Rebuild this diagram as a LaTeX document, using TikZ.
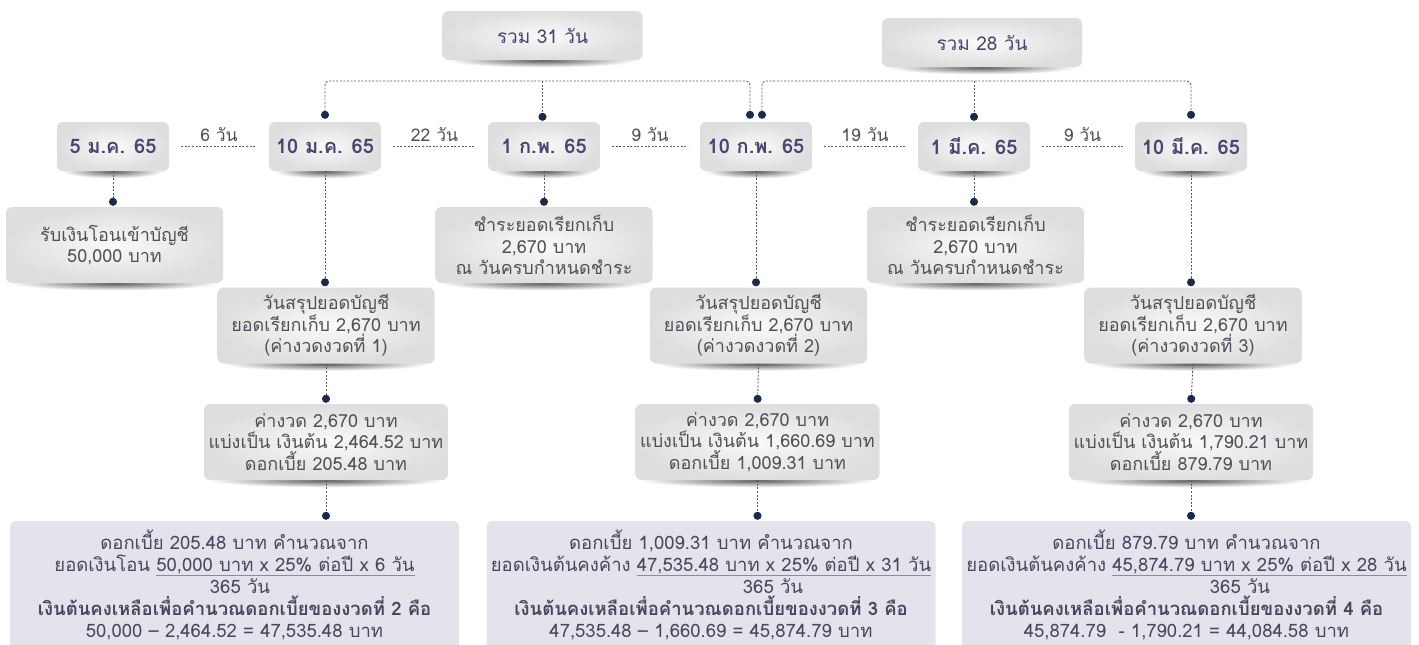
\documentclass[tikz,border=0pt]{standalone}
\usepackage{fontspec}
\setmainfont[Script=Thai]{Loma}
\usetikzlibrary{arrows.meta,backgrounds}
\definecolor{datetext}{HTML}{4B4470}
\definecolor{bodytext}{HTML}{505058}
\definecolor{calctext}{HTML}{49465F}
\definecolor{calcfill}{HTML}{E4E3EC}
\definecolor{dotcol}{HTML}{1B2A4A}
\definecolor{linecol}{HTML}{5A5A5A}
\definecolor{barcol}{HTML}{8C8C96}
\newlength\barlen
\newcommand\fracbar[1]{\settowidth\barlen{#1}\rlap{\textcolor{barcol}{\rule[-4pt]{\barlen}{1.3pt}}}#1}
\newcommand\widebold[1]{{\fontsize{18.5}{22}\selectfont\bfseries #1}}
\newcommand\fixedlines{\lineskiplimit=-30pt\relax\lineskip=0pt\relax}
\tikzset{
  graybox/.style={rounded corners=6pt, inner color=black!2, outer color=black!13, align=center, text=bodytext, font=\fontsize{18}{21.5}\selectfont\fixedlines},
  datebox/.style={graybox, minimum width=112pt, minimum height=49pt, text=datetext, font=\fontsize{20}{24}\selectfont\bfseries},
  sumbox/.style={graybox, minimum width=200pt, minimum height=49pt, text=datetext, font=\fontsize{19}{24}\selectfont},
  infobox/.style={graybox, minimum width=217pt, minimum height=76pt},
  splitbox/.style={graybox, minimum width=244pt, minimum height=76pt},
  calcbox/.style={rounded corners=6pt, fill=calcfill, align=center, text=calctext, minimum width=449pt, minimum height=129pt, font=\fontsize{18.5}{22}\selectfont\fixedlines},
  conn/.style={draw=linecol, line width=0.9pt, dash pattern=on 2pt off 1.6pt},
  todot/.style={conn, arrows={-Circle[length=8pt,color=dotcol]}, shorten >=1pt},
  bothdot/.style={conn, arrows={Circle[length=8pt,color=dotcol]-Circle[length=8pt,color=dotcol]}, shorten <=3pt, shorten >=3pt, rounded corners=4pt},
  gap/.style={conn, shorten <=12pt, shorten >=12pt},
  gaplabel/.style={text=bodytext, font=\fontsize{17.5}{20}\selectfont, above=1pt}
}
\begin{document}
\begin{tikzpicture}[x=1pt,y=-1pt]
\useasboundingbox (0,0) rectangle (1419,645);

\node[sumbox] (sum31) at (542.5,35.5) {รวม 31 วัน};
\node[sumbox] (sum28) at (982,42.5) {รวม 28 วัน};

\node[datebox] (d5jan) at (113,146.5) {5 ม.ค. 65};
\node[datebox] (d10jan) at (325,146.5) {10 ม.ค. 65};
\node[datebox] (d1feb) at (544,146.5) {1 ก.พ. 65};
\node[datebox] (d10feb) at (756,146.5) {10 ก.พ. 65};
\node[datebox] (d1mar) at (974,146.5) {1 มี.ค. 65};
\node[datebox] (d10mar) at (1191,146.5) {10 มี.ค. 65};

\node[infobox] (recv) at (114.5,245) {รับเงินโอนเข้าบัญชี\\50,000 บาท};
\node[infobox] (pay1) at (544,245) {ชำระยอดเรียกเก็บ\\2,670 บาท\\ณ วันครบกำหนดชำระ};
\node[infobox] (pay2) at (975.5,245) {ชำระยอดเรียกเก็บ\\2,670 บาท\\ณ วันครบกำหนดชำระ};

\node[infobox] (stmt1) at (326,325.5) {วันสรุปยอดบัญชี\\ยอดเรียกเก็บ 2,670 บาท\\(ค่างวดงวดที่ 1)};
\node[infobox] (stmt2) at (758.5,325.5) {วันสรุปยอดบัญชี\\ยอดเรียกเก็บ 2,670 บาท\\(ค่างวดงวดที่ 2)};
\node[infobox] (stmt3) at (1193,325.5) {วันสรุปยอดบัญชี\\ยอดเรียกเก็บ 2,670 บาท\\(ค่างวดงวดที่ 3)};

\node[splitbox] (split1) at (326,442) {ค่างวด 2,670 บาท\\แบ่งเป็น เงินต้น 2,464.52 บาท\\ดอกเบี้ย 205.48 บาท};
\node[splitbox] (split2) at (757.5,442) {ค่างวด 2,670 บาท\\แบ่งเป็น เงินต้น 1,660.69 บาท\\ดอกเบี้ย 1,009.31 บาท};
\node[splitbox] (split3) at (1191,442) {ค่างวด 2,670 บาท\\แบ่งเป็น เงินต้น 1,790.21 บาท\\ดอกเบี้ย 879.79 บาท};

\node[calcbox] (calc1) at (234.5,585.5) {ดอกเบี้ย 205.48 บาท คำนวณจาก\\ยอดเงินโอน \fracbar{50,000 บาท x 25\% ต่อปี x 6 วัน}\\\hspace*{11pt}365 วัน\\\widebold{เงินต้นคงเหลือเพื่อคำนวณดอกเบี้ยของงวดที่ 2 คือ}\\50,000 – 2,464.52 = 47,535.48 บาท};
\node[calcbox] (calc2) at (711,585.5) {ดอกเบี้ย 1,009.31 บาท คำนวณจาก\\ยอดเงินต้นคงค้าง \fracbar{47,535.48 บาท x 25\% ต่อปี x 31 วัน}\\\hspace*{124pt}365 วัน\\\widebold{เงินต้นคงเหลือเพื่อคำนวณดอกเบี้ยของงวดที่ 3 คือ}\\47,535.48 – 1,660.69 = 45,874.79 บาท};
\node[calcbox] (calc3) at (1186.5,585.5) {ดอกเบี้ย 879.79 บาท คำนวณจาก\\ยอดเงินต้นคงค้าง \fracbar{45,874.79 บาท x 25\% ต่อปี x 28 วัน}\\\hspace*{107pt}365 วัน\\\widebold{เงินต้นคงเหลือเพื่อคำนวณดอกเบี้ยของงวดที่ 4 คือ}\\45,874.79~~- 1,790.21 = 44,084.58 บาท};

\draw[gap] (d5jan) -- node[gaplabel] {6 วัน} (d10jan);
\draw[gap] (d10jan) -- node[gaplabel] {22 วัน} (d1feb);
\draw[gap] (d1feb) -- node[gaplabel] {9 วัน} (d10feb);
\draw[gap] (d10feb) -- node[gaplabel] {19 วัน} (d1mar);
\draw[gap] (d1mar) -- node[gaplabel] {9 วัน} (d10mar);

\coordinate (top31) at (sum31.south |- 0,81);
\coordinate (top28) at (d1mar.north |- 0,81);
\draw[bothdot] (d10jan.north) |- (top31) -| ([xshift=-6pt]d10feb.north);
\draw[todot] (top31) -- (top31 |- d1feb.north);
\draw[bothdot] ([xshift=6pt]d10feb.north) |- (top28) -| (d10mar.north);
\draw[todot] (top28) -- (d1mar.north);

\draw[todot] (d5jan.south) -- (d5jan.south |- recv.north);
\draw[todot] (d1feb.south) -- (d1feb.south |- pay1.north);
\draw[todot] (d1mar.south) -- (d1mar.south |- pay2.north);
\draw[todot] (d10jan.south) -- (d10jan.south |- stmt1.north);
\draw[todot] (d10feb.south) -- (d10feb.south |- stmt2.north);
\draw[todot] (d10mar.south) -- (d10mar.south |- stmt3.north);
\draw[todot] (stmt1.south) -- (split1.north);
\draw[todot] (stmt2.south) -- (split2.north);
\draw[todot] (stmt3.south) -- (split3.north);
\draw[todot] (split1.south) -- (split1.south |- calc1.north);
\draw[todot] (split2.south) -- (split2.south |- calc2.north);
\draw[todot] (split3.south) -- (split3.south |- calc3.north);

\begin{scope}[on background layer]
\foreach \n in {sum31,sum28,d5jan,d10jan,d1feb,d10feb,d1mar,d10mar,recv,pay1,pay2,stmt1,stmt2,stmt3,split1,split2,split3}
  \shade[inner color=black!65, outer color=white] ([xshift=5pt,yshift=-7pt]\n.south west) rectangle ([xshift=-5pt,yshift=7pt]\n.south east);
\end{scope}
\end{tikzpicture}
\end{document}
